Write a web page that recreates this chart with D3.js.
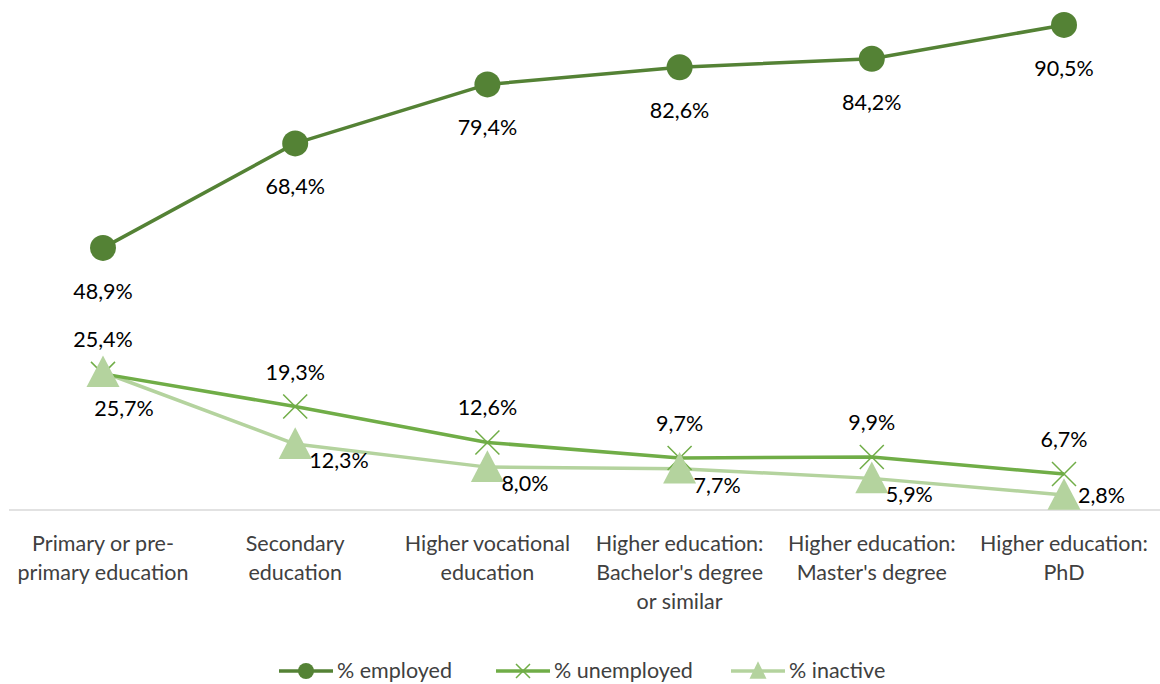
<!DOCTYPE html>
<html>
<head>
<meta charset="utf-8">
<script src="https://cdn.jsdelivr.net/npm/d3@7"></script>
<style>
  html, body { margin: 0; padding: 0; background: #fff; }
  svg { display: block; font-family: Lato, "Open Sans", sans-serif; }
</style>
</head>
<body>
<svg id="chart" width="1160" height="684"></svg>
<script>
// Labour-market status by level of education
const categories = [
  ["Primary or pre-", "primary education"],
  ["Secondary", "education"],
  ["Higher vocational", "education"],
  ["Higher education:", "Bachelor's degree", "or similar"],
  ["Higher education:", "Master's degree"],
  ["Higher education:", "PhD"]
];
const employed   = [48.9, 68.4, 79.4, 82.6, 84.2, 90.5];
const unemployed = [25.4, 19.3, 12.6, 9.7, 9.9, 6.7];
const inactive   = [25.7, 12.3, 8.0, 7.7, 5.9, 2.8];
const seriesNames = ["% employed", "% unemployed", "% inactive"];

const colors = { employed: "#548235", unemployed: "#70ad47", inactive: "#b4d39e" };

const svg = d3.select("#chart");
const W = 1160;
const axisY = 510;
const FS = 21.5;

const x = d3.scalePoint()
  .domain(d3.range(categories.length))
  .range([103, 1064]);

const y = d3.scaleLinear()
  .domain([0, 100])
  .range([axisY, axisY - 536]);

const fmt = v => d3.format(".1f")(v).replace(".", ",") + "%";

// category axis line
svg.append("line")
  .attr("x1", 9).attr("x2", W)
  .attr("y1", axisY).attr("y2", axisY)
  .attr("stroke", "#d9d9d9").attr("stroke-width", 1.5);

// category labels
const catG = svg.append("g");
categories.forEach((lines, i) => {
  const t = catG.append("text")
    .attr("x", x(i)).attr("y", 551)
    .attr("text-anchor", "middle")
    .attr("font-size", FS).attr("fill", "#404040");
  lines.forEach((ln, j) => {
    t.append("tspan").attr("x", x(i)).attr("dy", j === 0 ? 0 : 29).text(ln);
  });
});

const line = d3.line().x((d, i) => x(i)).y(d => y(d));

// line paths (inactive drawn first so others sit on top)
svg.append("path").datum(inactive).attr("d", line)
  .attr("fill", "none").attr("stroke", colors.inactive).attr("stroke-width", 3.5).attr("stroke-linejoin", "round");
svg.append("path").datum(unemployed).attr("d", line)
  .attr("fill", "none").attr("stroke", colors.unemployed).attr("stroke-width", 3.5).attr("stroke-linejoin", "round");
svg.append("path").datum(employed).attr("d", line)
  .attr("fill", "none").attr("stroke", colors.employed).attr("stroke-width", 3.5).attr("stroke-linejoin", "round");

// markers
function xMark(g, cx, cy, r, color) {
  g.append("path")
    .attr("d", `M${cx - r},${cy - r}L${cx + r},${cy + r}M${cx - r},${cy + r}L${cx + r},${cy - r}`)
    .attr("stroke", color).attr("stroke-width", 1.5).attr("fill", "none");
}
function triMark(g, cx, cy, s, color) {
  const h = s * 0.9;
  g.append("path")
    .attr("d", `M${cx},${cy - h / 2 - 2}L${cx + s / 2},${cy + h / 2}L${cx - s / 2},${cy + h / 2}Z`)
    .attr("fill", color);
}

const mk = svg.append("g");
unemployed.forEach((v, i) => xMark(mk, x(i), y(v), 12, colors.unemployed));
inactive.forEach((v, i) => triMark(mk, x(i), y(v), 33, colors.inactive));
mk.selectAll("circle.emp").data(employed).join("circle")
  .attr("class", "emp")
  .attr("cx", (d, i) => x(i)).attr("cy", d => y(d)).attr("r", 13)
  .attr("fill", colors.employed);

// data labels
const lab = svg.append("g").attr("font-size", FS).attr("fill", "#000");
employed.forEach((v, i) => {
  lab.append("text").attr("x", x(i)).attr("y", y(v) + 51)
    .attr("text-anchor", "middle").text(fmt(v));
});
unemployed.forEach((v, i) => {
  lab.append("text").attr("x", x(i)).attr("y", y(v) - 27)
    .attr("text-anchor", "middle").text(fmt(v));
});
inactive.forEach((v, i) => {
  if (i === 0) {
    lab.append("text").attr("x", x(i) + 21).attr("y", y(v) + 44)
      .attr("text-anchor", "middle").text(fmt(v));
  } else {
    const ly = Math.min(y(v) + 24, axisY - 7);
    lab.append("text").attr("x", x(i) + 14).attr("y", ly)
      .attr("text-anchor", "start").text(fmt(v));
  }
});

// legend
const legendY = 671;
const legendItems = [
  { name: seriesNames[0], color: colors.employed, x0: 279, kind: "circle" },
  { name: seriesNames[1], color: colors.unemployed, x0: 496, kind: "x" },
  { name: seriesNames[2], color: colors.inactive, x0: 731, kind: "tri" }
];
const lg = svg.append("g");
legendItems.forEach(it => {
  lg.append("line").attr("x1", it.x0).attr("x2", it.x0 + 54)
    .attr("y1", legendY).attr("y2", legendY)
    .attr("stroke", it.color).attr("stroke-width", 3.5);
  const cx = it.x0 + 27;
  if (it.kind === "circle") {
    lg.append("circle").attr("cx", cx).attr("cy", legendY).attr("r", 8).attr("fill", it.color);
  } else if (it.kind === "x") {
    xMark(lg, cx, legendY, 7, it.color);
  } else {
    triMark(lg, cx, legendY, 17, it.color);
  }
  lg.append("text").attr("x", it.x0 + 58).attr("y", legendY + 7)
    .attr("font-size", FS).attr("fill", "#404040").text(it.name);
});
</script>
</body>
</html>
